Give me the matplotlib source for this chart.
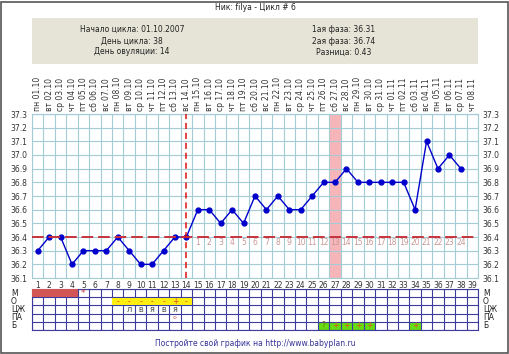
import numpy as np
import matplotlib
matplotlib.use('Agg')
import matplotlib.pyplot as plt
from matplotlib.patches import Rectangle
from matplotlib.transforms import blended_transform_factory

# данные графика
days = list(range(1, 40))
dates = ['пн 01.10', 'вт 02.10', 'ср 03.10', 'чт 04.10', 'пт 05.10', 'сб 06.10', 'вс 07.10',
         'пн 08.10', 'вт 09.10', 'ср 10.10', 'чт 11.10', 'пт 12.10', 'сб 13.10', 'вс 14.10',
         'пн 15.10', 'вт 16.10', 'ср 17.10', 'чт 18.10', 'пт 19.10', 'сб 20.10', 'вс 21.10',
         'пн 22.10', 'вт 23.10', 'ср 24.10', 'чт 25.10', 'пт 26.10', 'сб 27.10', 'вс 28.10',
         'пн 29.10', 'вт 30.10', 'ср 31.10', 'чт 01.11', 'пт 02.11', 'сб 03.11', 'вс 04.11',
         'пн 05.11', 'вт 06.11', 'ср 07.11', 'чт 08.11']
temp_days = list(range(1, 39))
temps = [36.3, 36.4, 36.4, 36.2, 36.3, 36.3, 36.3, 36.4, 36.3, 36.2, 36.2, 36.3, 36.4, 36.4,
         36.6, 36.6, 36.5, 36.6, 36.5, 36.7, 36.6, 36.7, 36.6, 36.6, 36.7, 36.8, 36.8, 36.9,
         36.8, 36.8, 36.8, 36.8, 36.8, 36.6, 37.1, 36.9, 37.0, 36.9]
y_ticks = [36.1, 36.2, 36.3, 36.4, 36.5, 36.6, 36.7, 36.8, 36.9, 37.0, 37.1, 37.2, 37.3]
coverline = 36.4
ovulation_day = 14
marked_day = 27
luteal_days = list(range(15, 39))
luteal_nums = list(range(1, 25))

row_labels = ['М', 'О', 'ЦЖ', 'ПА', 'Б']
m_days = [1, 2, 3, 4]
m_marks = {5: '*'}
o_days = [8, 9, 10, 11, 12, 13, 14]
o_marks = ['-', '-', '-', '-', '-', '+', '-']
czh_days = [9, 10, 11, 12, 13]
czh_marks = ['Л', 'В', 'Я', 'В', 'Я']
pa_days = [13]
pa_marks = ['o']
b_days = [26, 27, 28, 29, 30, 34]
b_marks = ['?', '+', '+', '+', '+', '+']

W, H = 510, 354
FS = 5.5


def box(x0, y0, x1, y1):
    return [x0 / W, 1 - y1 / H, (x1 - x0) / W, (y1 - y0) / H]


fig = plt.figure(figsize=(W / 100, H / 100), dpi=100, facecolor='w')

# шапка
fig.text(255 / W, 1 - 7 / H, 'Ник: filya - Цикл # 6', ha='center', va='center', fontsize=FS, color='#222222')
fig.add_artist(Rectangle((32 / W, 1 - 64 / H), 446 / W, 46 / H, transform=fig.transFigure,
                         facecolor='#e6e4d7', edgecolor='none'))
for y, s in zip([29, 41, 52], ['Начало цикла: 01.10.2007', 'День цикла: 38', 'День овуляции: 14']):
    fig.text(132 / W, 1 - y / H, s, ha='center', va='center', fontsize=FS, color='#222222')
for y, s in zip([29, 41, 52], ['1ая фаза: 36.31', '2ая фаза: 36.74', 'Разница: 0.43']):
    fig.text(344 / W, 1 - y / H, s, ha='center', va='center', fontsize=FS, color='#222222')

# температура
gridc = '#a3ccd5'
ax = fig.add_axes(box(32, 114, 478, 278))
ax.set_xlim(0.5, 39.5)
ax.set_ylim(36.1, 37.3)
ax.set_xticks(days)
ax.set_xticklabels([str(d) for d in days])
ax.set_xticks(np.arange(0.5, 40, 1), minor=True)
ax.set_yticks(y_ticks)
ax.set_yticklabels(['%.1f' % v for v in y_ticks])
ax.set_axisbelow(True)
ax.grid(which='minor', axis='x', color=gridc, lw=0.8)
ax.grid(which='major', axis='y', color=gridc, lw=0.8)
ax.tick_params(which='both', length=0)
ax.tick_params(axis='y', labelright=True, labelsize=FS, pad=3.5, labelcolor='#333333')
ax.tick_params(axis='x', labelsize=FS, pad=2, labelcolor='#333333')
for sp in ax.spines.values():
    sp.set_color(gridc)
    sp.set_linewidth(0.8)

top = ax.secondary_xaxis('top')
top.set_xticks(days)
top.set_xticklabels(dates)
top.tick_params(length=0, pad=2.5, labelsize=FS, labelrotation=90, labelcolor='#333333')
top.spines['top'].set_color(gridc)

ax.axvspan(marked_day - 0.5, marked_day + 0.5, color='#f6b6b9', zorder=0.3, lw=0)
ax.plot(temp_days, temps, '-o', color='#0000cc', lw=1.0, ms=3.5, zorder=3)
ax.axhline(coverline, color='#c8323c', lw=1.4, dashes=(6, 2.5), zorder=4)
ax.axvline(ovulation_day, color='#dd1111', lw=1.1, dashes=(4, 2.5), zorder=4)
for d, n in zip(luteal_days, luteal_nums):
    ax.text(d, 36.362, str(n), ha='center', va='center', fontsize=FS, color='#c99797')

# таблица отметок
tblc = '#3b3b9b'
tb = fig.add_axes(box(32, 289, 478, 330))
tb.set_xlim(0.5, 39.5)
tb.set_ylim(5, 0)
tb.set_xticks(np.arange(0.5, 40, 1))
tb.set_yticks(range(6))
tb.tick_params(length=0, labelbottom=False, labelleft=False)
tb.set_axisbelow(True)
tb.grid(color=tblc, lw=0.8)
for sp in tb.spines.values():
    sp.set_color(tblc)
    sp.set_linewidth(0.8)

tb.bar(m_days, 1, bottom=0, width=1, color='#d25555', zorder=3)
for d, s in m_marks.items():
    tb.text(d, 0.55, s, ha='center', va='center', fontsize=FS + 1, color='#d04040', zorder=5)
tb.bar(o_days, 0.8, bottom=1.1, width=1, color='#ffee11', zorder=3)
for d, s in zip(o_days, o_marks):
    tb.text(d, 1.5, s, ha='center', va='center', fontsize=FS, color='#dd4433', zorder=5)
for d, s in zip(czh_days, czh_marks):
    tb.text(d, 2.5, s, ha='center', va='center', fontsize=5, color='#333333', zorder=5)
for d, s in zip(pa_days, pa_marks):
    tb.text(d, 3.45, s, ha='center', va='center', fontsize=4.5, color='#cc6666', zorder=5)
tb.bar(b_days, 1, bottom=4, width=1, color='#66dd11', zorder=0.3)
for d, s in zip(b_days, b_marks):
    tb.text(d, 4.5, s, ha='center', va='center', fontsize=FS,
            color='#777700' if s == '?' else '#dd5522', zorder=5)

tr = blended_transform_factory(fig.transFigure, tb.transData)
for i, lab in enumerate(row_labels):
    tb.text(11 / W, i + 0.5, lab, transform=tr, ha='left', va='center', fontsize=FS, color='#222222')
    tb.text(483 / W, i + 0.5, lab, transform=tr, ha='left', va='center', fontsize=FS, color='#222222')

fig.text(255 / W, 1 - 343 / H, 'Постройте свой график на http://www.babyplan.ru', ha='center', va='center',
         fontsize=FS, color='#333399')

# рамка
fig.add_artist(Rectangle((0.5 / W, 1.5 / H), 508 / W, 351 / H, transform=fig.transFigure,
                         facecolor='none', edgecolor='#555555', lw=1.2))

fig.savefig('out.png', dpi=100)
